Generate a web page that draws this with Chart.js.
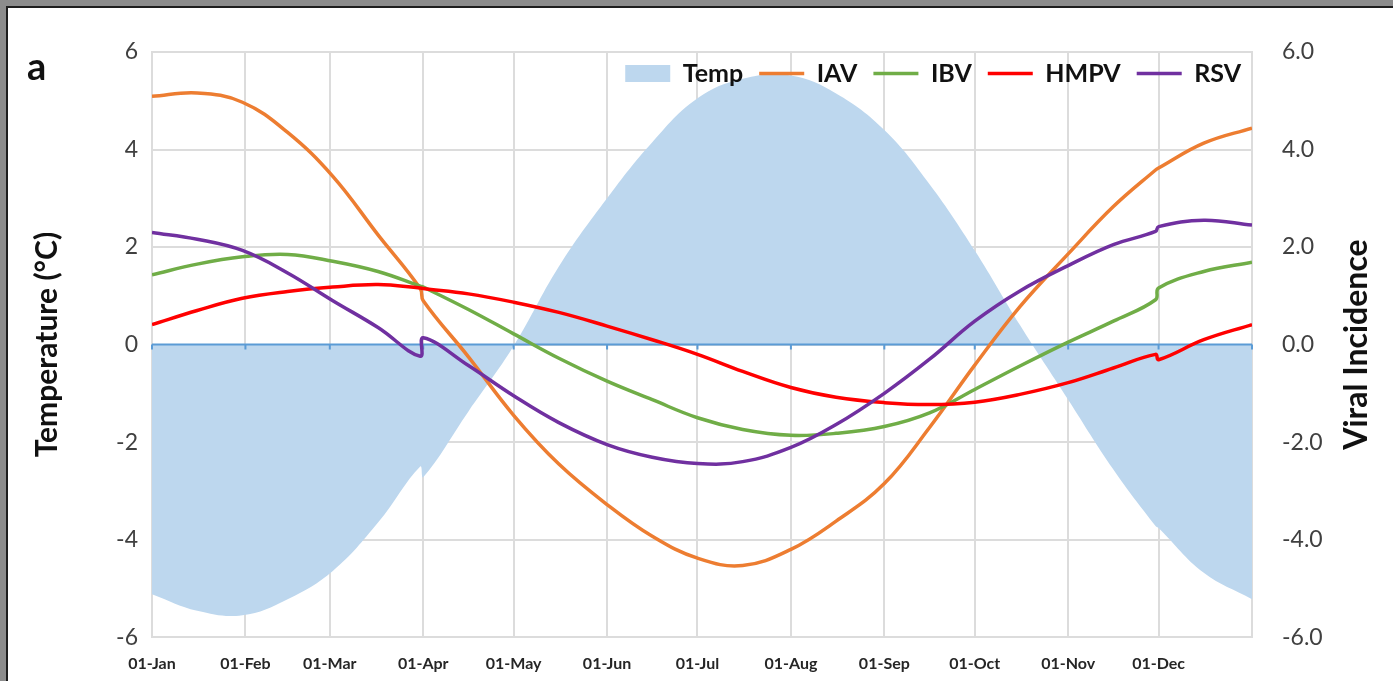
<!DOCTYPE html>
<html>
<head>
<meta charset="utf-8">
<script src="https://cdn.jsdelivr.net/npm/chart.js@4.4.1/dist/chart.umd.min.js"></script>
<style>
  html, body { margin: 0; padding: 0; background: #8c8c8c; width: 1393px; height: 681px; overflow: hidden; }
  #panel { position: absolute; left: 6px; top: 6px; width: 1393px; height: 681px; background: #fff;
           border-top: 2px solid #1e1e1e; border-left: 2px solid #1e1e1e; }
  #chart { position: absolute; left: 0; top: 0; }
</style>
</head>
<body>
<div id="panel"></div>
<canvas id="chart" width="1393" height="681"></canvas>
<script>
// day of year for each sample (two close samples where a curve jumps)
var days = [0, 15, 30, 45, 60, 75, 89, 90, 105, 120, 135, 151, 166, 181, 196, 212, 227, 243, 258, 273, 288, 304, 319, 333, 334, 349, 365];
var monthStarts = [0, 31, 59, 90, 120, 151, 181, 212, 243, 273, 304, 334, 365];
var monthLabels = ['01-Jan', '01-Feb', '01-Mar', '01-Apr', '01-May', '01-Jun', '01-Jul', '01-Aug', '01-Sep', '01-Oct', '01-Nov', '01-Dec', ''];

var temp = [-5.12, -5.46, -5.55, -5.22, -4.64, -3.65, -2.5, -2.72, -1.37, -0.03, 1.6, 3.0, 4.15, 5.05, 5.45, 5.52, 5.15, 4.4, 3.29, 1.93, 0.4, -1.13, -2.56, -3.72, -3.76, -4.68, -5.22];
var iav = [5.09, 5.16, 4.97, 4.35, 3.45, 2.25, 1.15, 0.9, -0.25, -1.45, -2.45, -3.28, -3.93, -4.38, -4.53, -4.2, -3.62, -2.85, -1.7, -0.42, 0.78, 1.86, 2.83, 3.58, 3.62, 4.13, 4.44];
var ibv = [1.43, 1.65, 1.8, 1.85, 1.71, 1.5, 1.2, 1.18, 0.72, 0.22, -0.28, -0.75, -1.13, -1.5, -1.74, -1.86, -1.82, -1.68, -1.4, -0.92, -0.44, 0.05, 0.48, 0.92, 1.16, 1.5, 1.69];
var hmpv = [0.41, 0.7, 0.95, 1.09, 1.18, 1.23, 1.16, 1.15, 1.04, 0.87, 0.66, 0.38, 0.1, -0.2, -0.55, -0.88, -1.08, -1.19, -1.23, -1.18, -1.02, -0.78, -0.48, -0.2, -0.31, 0.1, 0.41];
var rsv = [2.3, 2.16, 1.93, 1.47, 0.9, 0.35, -0.24, 0.14, -0.43, -1.05, -1.6, -2.05, -2.31, -2.44, -2.4, -2.11, -1.64, -1.0, -0.3, 0.48, 1.1, 1.62, 2.05, 2.32, 2.42, 2.55, 2.45];

function pts(arr) {
  return days.map(function (d, i) { return { x: d, y: arr[i] }; });
}

Chart.defaults.font.family = 'Lato';
Chart.defaults.color = '#404040';

function lineSet(label, values, color, order) {
  return {
    label: label,
    data: pts(values),
    yAxisID: 'y2',
    borderColor: color,
    backgroundColor: color,
    borderWidth: 3.5,
    pointRadius: 0,
    pointStyle: 'line',
    tension: 0.4,
    fill: false,
    order: order
  };
}

// legend gets a fixed slot, is moved down into the plot and drawn on top
const legendSpace = {
  id: 'legendSpace',
  beforeInit(chart) {
    const lg = chart.legend;
    const fit = lg.fit;
    lg.fit = function () {
      fit.bind(lg)();
      this.height = 52;
    };
    lg._layers = function () {
      return [{ z: 1, draw: function (area) { lg.draw(area); } }];
    };
  },
  afterLayout(chart) {
    const lg = chart.legend;
    lg.top = 45;
    lg.bottom = lg.top + lg.height;
    lg.right = 1257;
  }
};

// blue zero axis drawn over the temperature area, under the lines
const zeroLine = {
  id: 'zeroLine',
  afterDatasetDraw(chart, args) {
    if (args.index !== 0) return;
    const ctx = chart.ctx;
    const area = chart.chartArea;
    const y = chart.scales.y.getPixelForValue(0);
    ctx.save();
    ctx.strokeStyle = '#5b9bd5';
    ctx.lineWidth = 2;
    ctx.beginPath();
    ctx.moveTo(area.left, y);
    ctx.lineTo(area.right, y);
    monthStarts.forEach(function (d) {
      const x = chart.scales.x.getPixelForValue(d);
      ctx.moveTo(x, y);
      ctx.lineTo(x, y + 5);
    });
    ctx.stroke();
    ctx.restore();
  }
};

const extraText = {
  id: 'extraText',
  afterDraw(chart) {
    const ctx = chart.ctx;
    const area = chart.chartArea;
    ctx.save();
    ctx.fillStyle = '#111';
    ctx.font = 'bold 38px Lato';
    ctx.textBaseline = 'alphabetic';
    ctx.fillText('a', 27, 80);
    ctx.translate(area.right + 105, (area.top + area.bottom) / 2);
    ctx.rotate(-Math.PI / 2);
    ctx.font = 'bold 32px Lato';
    ctx.textAlign = 'center';
    ctx.textBaseline = 'middle';
    ctx.fillText('Viral Incidence', 0, 0);
    ctx.restore();
  }
};

new Chart(document.getElementById('chart'), {
  type: 'line',
  data: {
    datasets: [
      {
        label: 'Temp',
        data: pts(temp),
        yAxisID: 'y',
        borderColor: 'rgba(0,0,0,0)',
        borderWidth: 0,
        backgroundColor: '#bdd7ee',
        pointRadius: 0,
        pointStyle: 'rect',
        tension: 0.4,
        fill: 'origin',
        order: 10
      },
      lineSet('IAV', iav, '#ed7d31', 4),
      lineSet('IBV', ibv, '#70ad47', 3),
      lineSet('HMPV', hmpv, '#ff0000', 2),
      lineSet('RSV', rsv, '#7030a0', 1)
    ]
  },
  options: {
    responsive: false,
    animation: false,
    layout: { padding: 0 },
    plugins: {
      tooltip: { enabled: false },
      legend: {
        position: 'top',
        align: 'end',
        fullSize: false,
        labels: {
          usePointStyle: true,
          pointStyleWidth: 45,
          boxHeight: 17,
          padding: 16,
          color: '#111',
          font: { size: 25, weight: 'bold' },
          sort: function (a, b) { return a.datasetIndex - b.datasetIndex; }
        }
      }
    },
    scales: {
      x: {
        type: 'linear',
        min: 0,
        max: 365,
        afterBuildTicks: function (scale) {
          scale.ticks = monthStarts.map(function (v) { return { value: v }; });
        },
        afterFit: function (scale) { scale.height = 43; },
        ticks: {
          autoSkip: false,
          maxRotation: 0,
          padding: 17,
          color: '#262626',
          font: { size: 16, weight: 'bold' },
          callback: function (v, i) { return monthLabels[i]; }
        },
        grid: { color: '#dcdcdc', lineWidth: 2, drawTicks: false },
        border: { color: '#dcdcdc', width: 2 }
      },
      y: {
        position: 'left',
        min: -6,
        max: 6,
        afterFit: function (scale) { scale.width = 152; },
        ticks: {
          stepSize: 2,
          padding: 14,
          font: { size: 23 },
          callback: function (v) { return String(v); }
        },
        grid: { color: '#dcdcdc', lineWidth: 2, drawTicks: false },
        border: { color: '#dcdcdc', width: 2 },
        title: {
          display: true,
          text: 'Temperature (°C)',
          color: '#111',
          font: { size: 30, weight: 'bold' },
          padding: { top: 29, bottom: 0 }
        }
      },
      y2: {
        position: 'right',
        min: -6,
        max: 6,
        afterFit: function (scale) { scale.width = 141; },
        ticks: {
          stepSize: 2,
          padding: 30,
          font: { size: 23 },
          callback: function (v) { return v.toFixed(1); }
        },
        grid: { drawOnChartArea: false, drawTicks: false },
        border: { color: '#dcdcdc', width: 2 }
      }
    }
  },
  plugins: [legendSpace, zeroLine, extraText]
});
</script>
</body>
</html>
